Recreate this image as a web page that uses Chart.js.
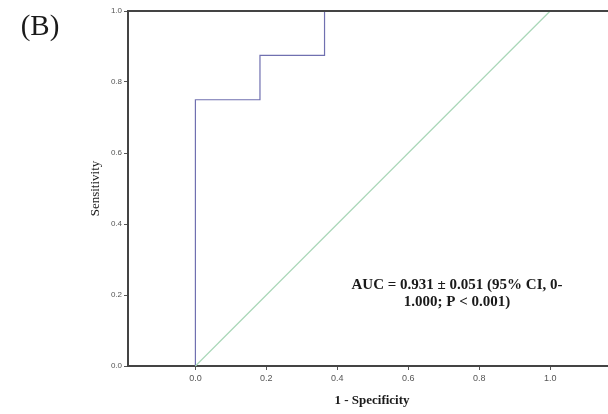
<!DOCTYPE html>
<html>
<head>
<meta charset="utf-8">
<script src="https://cdn.jsdelivr.net/npm/chart.js@4"></script>
<style>
  html, body { margin: 0; padding: 0; background: #fff; }
  #wrap { width: 608px; height: 414px; }
</style>
</head>
<body>
<div id="wrap"><canvas id="roc" width="608" height="414"></canvas></div>
<script>
// ROC curve points (1 - specificity, sensitivity)
const fprValues = [0, 0, 0.182, 0.182, 0.364, 0.364, 1];
const tprValues = [0, 0.75, 0.75, 0.875, 0.875, 1, 1];
// reference line
const refX = [0, 1];
const refY = [0, 1];
const tickValues = [0, 0.2, 0.4, 0.6, 0.8, 1.0];
const aucLines = ['AUC = 0.931 \u00b1 0.051 (95% CI, 0-', '1.000; P < 0.001)'];

const toPoints = (xs, ys) => xs.map((x, i) => ({ x, y: ys[i] }));

// extra text + top border, drawn after the chart
const annotations = {
  id: 'annotations',
  afterDraw(chart) {
    const { ctx, chartArea } = chart;
    ctx.save();
    // top frame line
    ctx.strokeStyle = '#444';
    ctx.lineWidth = 2;
    ctx.beginPath();
    ctx.moveTo(chartArea.left, chartArea.top);
    ctx.lineTo(chartArea.right, chartArea.top);
    ctx.stroke();

    ctx.fillStyle = '#1a1a1a';
    ctx.textAlign = 'center';
    ctx.textBaseline = 'middle';
    ctx.font = '29px "Liberation Serif", "DejaVu Serif", serif';
    ctx.fillText('(B)', 40, 27);

    ctx.font = 'bold 15px "Liberation Serif", serif';
    ctx.fillText(aucLines[0], 457, 285);
    ctx.fillText(aucLines[1], 457, 302);

    ctx.font = 'bold 13px "Liberation Serif", serif';
    ctx.fillText('1 - Specificity', 372, 401);

    ctx.font = '13px "Liberation Serif", serif';
    ctx.translate(96, (chartArea.top + chartArea.bottom) / 2);
    ctx.rotate(-Math.PI / 2);
    ctx.fillText('Sensitivity', 0, 0);
    ctx.restore();
  }
};

new Chart(document.getElementById('roc').getContext('2d'), {
  type: 'scatter',
  data: {
    datasets: [
      {
        label: 'Reference',
        data: toPoints(refX, refY),
        showLine: true,
        borderColor: '#a9d7b8',
        borderWidth: 1.2,
        pointRadius: 0,
        clip: false,
      },
      {
        label: 'ROC',
        data: toPoints(fprValues, tprValues),
        showLine: true,
        borderColor: '#7070b0',
        borderWidth: 1.2,
        pointRadius: 0,
        clip: false,
      },
    ],
  },
  options: {
    responsive: false,
    animation: false,
    layout: { padding: { top: 11, right: 0, left: 0, bottom: 0 } },
    plugins: { legend: { display: false }, tooltip: { enabled: false } },
    scales: {
      x: {
        type: 'linear',
        min: -0.19,
        max: 1.163,
        afterBuildTicks: (scale) => { scale.ticks = tickValues.map((v) => ({ value: v })); },
        afterFit: (scale) => { scale.height = 48; },
        grid: { drawOnChartArea: false, drawTicks: true, tickLength: 4, color: '#555' },
        border: { display: true, width: 2, color: '#444' },
        ticks: {
          padding: 3,
          color: '#555',
          font: { size: 9, family: 'Arial, "Liberation Sans", sans-serif' },
          callback: (v) => v.toFixed(1),
        },
      },
      y: {
        type: 'linear',
        min: 0,
        max: 1,
        afterBuildTicks: (scale) => { scale.ticks = tickValues.map((v) => ({ value: v })); },
        afterFit: (scale) => { scale.width = 128; },
        grid: { drawOnChartArea: false, drawTicks: true, tickLength: 4, color: '#555' },
        border: { display: true, width: 2, color: '#444' },
        ticks: {
          padding: 2,
          color: '#555',
          font: { size: 8, family: 'Arial, "Liberation Sans", sans-serif' },
          callback: (v) => v.toFixed(1),
        },
      },
    },
  },
  plugins: [annotations],
});
</script>
</body>
</html>
